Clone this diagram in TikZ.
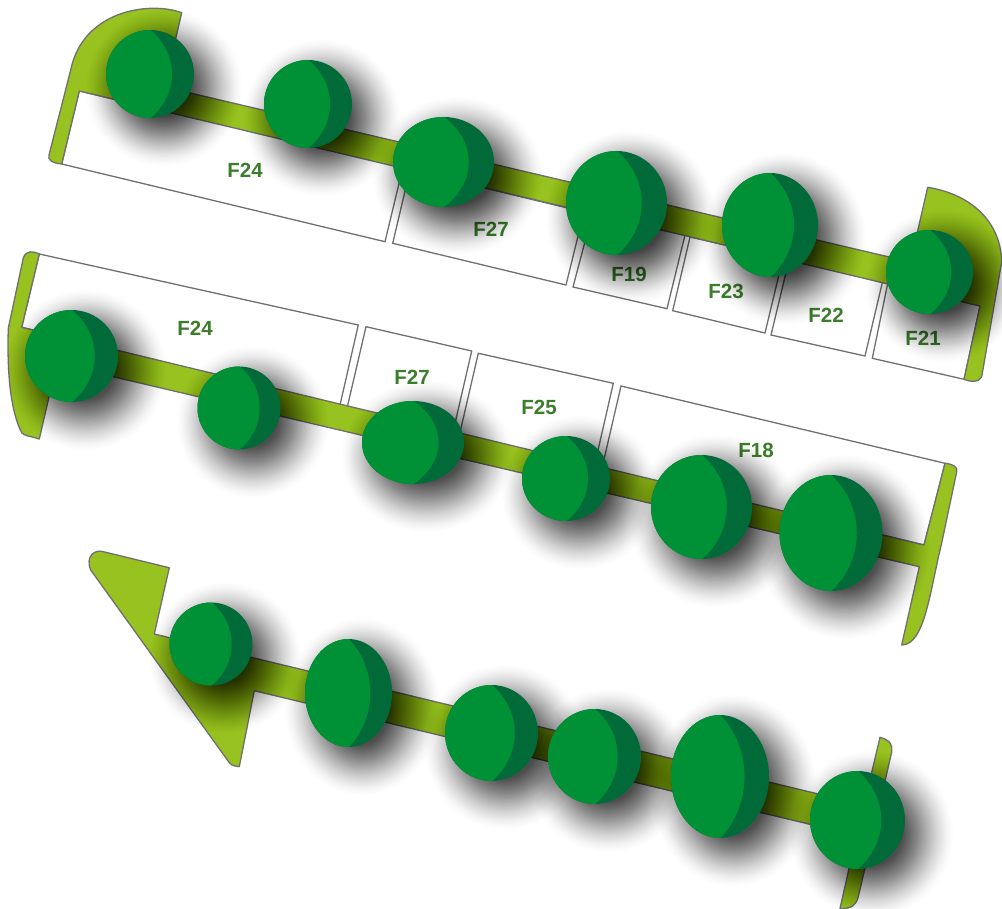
\documentclass[tikz,border=0pt]{standalone}
\usepackage{fontspec}
\setmainfont{Liberation Sans}
\definecolor{barGreen}{HTML}{97C21F}
\definecolor{ballLight}{HTML}{009036}
\definecolor{ballDark}{HTML}{006B38}
\definecolor{labelGreen}{HTML}{3C7D2B}
\definecolor{edgeGrey}{HTML}{707070}
\tikzset{
  slot/.style={draw=edgeGrey,line width=1.3pt,fill=white,line join=miter},
  rail/.style={draw=edgeGrey,line width=1.3pt,fill=barGreen,line join=round},
  tag/.style={font=\bfseries\fontsize{20.5}{24}\selectfont,text=labelGreen,inner sep=0pt}
}
\newcommand{\ballshadow}[4]{%
  \foreach \k in {0,...,39}{%
    \pgfmathsetmacro{\oa}{.006+.0012*\k}
    \fill[black,fill opacity=\oa] ({#1+14},{#2+14}) ellipse [x radius={#3+34-\k*1.3}, y radius={#4+34-\k*1.3}];
  }}
\newcommand{\ballbody}[4]{%
  \fill[ballDark] (#1,#2) ellipse [x radius=#3, y radius=#4];
  \begin{scope}
    \clip (#1,#2) ellipse [x radius=#3, y radius=#4];
    \fill[ballLight] (#1,{#2-#4-.5}) .. controls ({#1+.667*#3},{#2-.45*#4}) and ({#1+.667*#3},{#2+.45*#4}) .. (#1,{#2+#4+.5})
      -- ({#1-#3-1},{#2+#4+1}) -- ({#1-#3-1},{#2-#4-1}) -- cycle;
  \end{scope}}
\newcommand{\allballs}[1]{%
  #1{150}{74}{44}{44}
  #1{308}{104}{44}{44}
  #1{443.5}{162}{50.5}{45}
  #1{616.5}{203}{50.5}{52}
  #1{770}{225}{48}{52}
  #1{929.5}{272}{43.5}{42}
  #1{71.5}{356}{46.5}{46}
  #1{239}{408}{41.5}{41.5}
  #1{413}{442.5}{51}{41.5}
  #1{566}{478.5}{44}{42.5}
  #1{701.5}{507}{50.5}{52}
  #1{831}{533}{51.5}{58}
  #1{211}{644}{41.5}{41.5}
  #1{348.5}{693}{43.5}{54}
  #1{491.5}{733}{46.5}{48}
  #1{594.5}{756.5}{46.5}{47.5}
  #1{720}{776.5}{49}{61.5}
  #1{857.5}{820}{47.5}{49}
}
\begin{document}
\begin{tikzpicture}[x=1pt,y=-1pt]
\useasboundingbox (0,0) rectangle (1002,909);
% upper row of slots
\draw[slot] (79.3,91) -- (61.7,164) -- (385,241.7) -- (403,167) -- cycle;
\draw[slot] (410,170) -- (392.7,243.3) -- (566,285) -- (584,212) -- cycle;
\draw[slot] (592,215) -- (573,287) -- (667,308.7) -- (685,235) -- cycle;
\draw[slot] (690,237) -- (672.7,310.7) -- (765,333) -- (783,258) -- cycle;
\draw[slot] (789,260) -- (771,335) -- (865,356) -- (882.7,281) -- cycle;
\draw[slot] (888,282) -- (872.3,358.3) -- (964,379.3) -- (980,306) -- cycle;
% middle row of slots
\draw[slot] (39.3,254) -- (358.3,325) -- (340,405) -- (21.7,327.3) -- cycle;
\draw[slot] (366,326.7) -- (471.7,351) -- (452.8,433) -- (347.3,407) -- cycle;
\draw[slot] (478.3,353.3) -- (613.3,383.3) -- (594.4,466) -- (459.6,434) -- cycle;
\draw[slot] (621,386) -- (945,463.3) -- (924,545) -- (602,468) -- cycle;
% rails
\draw[rail] (181.7,12.7) .. controls (150,1) and (83,10) .. (70.7,70)
  -- (49,155) .. controls (47.5,160) and (52,163) .. (61.7,164)
  -- (79.3,91) -- (980,306) -- (964,379.3)
  .. controls (970,382) and (979,383) .. (981.7,376.7)
  -- (1001.7,262) .. controls (1001,225) and (975,195) .. (927.7,187.3)
  -- (910.5,262) -- (164.5,87) -- cycle;
\draw[rail] (39.3,254) .. controls (33,251) and (26,250) .. (23.3,258)
  -- (8.3,328.3) .. controls (7,370) and (10,410) .. (21.7,432.7)
  .. controls (24,436) and (30,436) .. (39.3,439)
  -- (56.8,363.4) -- (919.3,566.7) -- (901.7,645)
  .. controls (925,645) and (930,590) .. (941.7,543)
  -- (956.7,471.7) .. controls (958,467) and (953,464) .. (945,463.3)
  -- (924,545) -- (21.7,327.3) -- cycle;
\draw[rail] (103.3,551.7) .. controls (95,549) and (85,556) .. (90.7,570)
  -- (229.3,762.7) .. controls (232,766) and (235,766) .. (239.3,766.7)
  -- (254.3,690.7) -- (856.5,835.5) -- (840,908.5)
  .. controls (852,909) and (856,905) .. (858.3,896.7)
  -- (891.7,752) .. controls (893,745) and (890,740) .. (880,737.3)
  -- (864,805) -- (154.3,634) -- (169.3,567.7) -- cycle;
% labels
\node[tag] (a1) at (245,170) {F24};
\node[tag] (a2) at (491,229) {F27};
\node[tag] (a3) at (629,274) {F19};
\node[tag] (a4) at (726,291) {F23};
\node[tag] (a5) at (826,315) {F22};
\node[tag] (a6) at (923,338) {F21};
\node[tag] (b1) at (195,328) {F24};
\node[tag] (b2) at (412,377) {F27};
\node[tag] (b3) at (539,407) {F25};
\node[tag] (b4) at (756,450) {F18};
% balls
\allballs{\ballshadow}
\allballs{\ballbody}
\end{tikzpicture}
\end{document}
